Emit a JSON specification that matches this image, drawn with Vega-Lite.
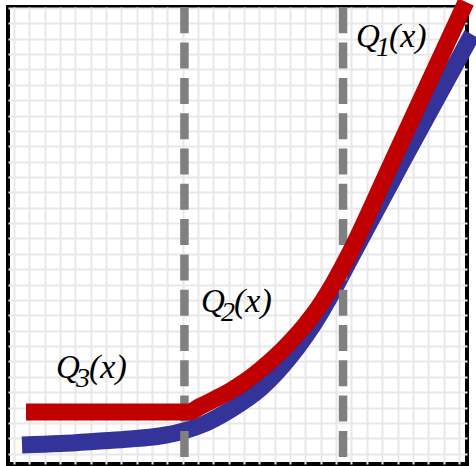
{
  "$schema": "https://vega.github.io/schema/vega-lite/v6.json",
  "width": 459,
  "height": 457,
  "autosize": {"type": "none"},
  "padding": {"left": 8, "top": 7, "right": 9, "bottom": 2},
  "background": "white",
  "view": {"stroke": "black", "strokeWidth": 4, "fill": "white"},
  "datasets": {
    "red": [
      {"x": 0.782, "y": 2.713},
      {"x": 11.343, "y": 2.713},
      {"x": 12.125, "y": 3.071},
      {"x": 13.103, "y": 3.559},
      {"x": 14.081, "y": 4.079},
      {"x": 15.059, "y": 4.697},
      {"x": 16.037, "y": 5.446},
      {"x": 17.014, "y": 6.291},
      {"x": 17.992, "y": 7.267},
      {"x": 18.97, "y": 8.373},
      {"x": 19.948, "y": 9.675},
      {"x": 20.926, "y": 11.268},
      {"x": 21.904, "y": 13.09},
      {"x": 24.641, "y": 18.979},
      {"x": 27.64, "y": 25.452},
      {"x": 29.465, "y": 29.388}
    ],
    "blue": [
      {"x": 0.522, "y": 0.566},
      {"x": 2.999, "y": 0.664},
      {"x": 5.606, "y": 0.826},
      {"x": 7.562, "y": 0.956},
      {"x": 9.518, "y": 1.152},
      {"x": 10.821, "y": 1.412},
      {"x": 11.473, "y": 1.607},
      {"x": 12.451, "y": 1.965},
      {"x": 14.081, "y": 2.843},
      {"x": 16.037, "y": 4.21},
      {"x": 17.992, "y": 6.292},
      {"x": 19.948, "y": 9.089},
      {"x": 21.056, "y": 11.041},
      {"x": 21.773, "y": 12.407},
      {"x": 25.163, "y": 18.718},
      {"x": 28.944, "y": 25.614},
      {"x": 29.857, "y": 27.274}
    ],
    "cuts": [
      {"x": 11.11, "y": 29.04, "bottom": -0.85},
      {"x": 21.45, "y": 29.04, "bottom": -0.85}
    ],
    "labels": [
      {"sub": "1", "x": 22.29, "y": 26.46},
      {"sub": "2", "x": 12.19, "y": 9.22},
      {"sub": "3", "x": 2.74, "y": 4.93}
    ]
  },
  "encoding": {
    "x": {"field": "x", "type": "quantitative",
          "scale": {"domain": [-0.391, 29.53], "nice": false, "zero": false},
          "axis": {"grid": true, "labels": false, "ticks": false, "domain": false, "title": null, "gridColor": "#e8e8e8", "gridWidth": 2,
                   "values": [0,1,2,3,4,5,6,7,8,9,10,11,12,13,14,15,16,17,18,19,20,21,22,23,24,25,26,27,28,29]}},
    "y": {"field": "y", "type": "quantitative",
          "scale": {"domain": [-0.67, 29.06], "nice": false, "zero": false},
          "axis": {"grid": true, "labels": false, "ticks": false, "domain": false, "title": null, "gridColor": "#e8e8e8", "gridWidth": 2,
                   "values": [0,1,2,3,4,5,6,7,8,9,10,11,12,13,14,15,16,17,18,19,20,21,22,23,24,25,26,27,28,29]}}
  },
  "layer": [
    {
      "data": {"name": "blue"},
      "mark": {"type": "line", "color": "#333399", "strokeWidth": 17, "strokeCap": "butt", "interpolate": "monotone"}
    },
    {
      "data": {"name": "cuts"},
      "mark": {"type": "rule", "color": "#808080", "strokeWidth": 8.5, "strokeDash": [26, 9.3], "strokeCap": "butt"},
      "encoding": {
        "y2": {"field": "bottom"}
      }
    },
    {
      "data": {"name": "red"},
      "mark": {"type": "line", "color": "#C00000", "strokeWidth": 17, "strokeCap": "butt", "interpolate": "monotone"}
    },
    {
      "data": {"name": "labels"},
      "mark": {"type": "text", "text": "Q", "font": "Liberation Serif", "fontStyle": "italic", "fontSize": 33, "align": "left", "baseline": "alphabetic", "color": "black"}
    },
    {
      "data": {"name": "labels"},
      "mark": {"type": "text", "font": "Liberation Serif", "fontStyle": "italic", "fontSize": 28, "align": "left", "baseline": "alphabetic", "color": "black", "dx": 20, "dy": 9},
      "encoding": {
        "text": {"field": "sub"}
      }
    },
    {
      "data": {"name": "labels"},
      "mark": {"type": "text", "text": "(x)", "font": "Liberation Serif", "fontStyle": "italic", "fontSize": 34, "align": "left", "baseline": "alphabetic", "color": "black", "dx": 33}
    }
  ]
}
